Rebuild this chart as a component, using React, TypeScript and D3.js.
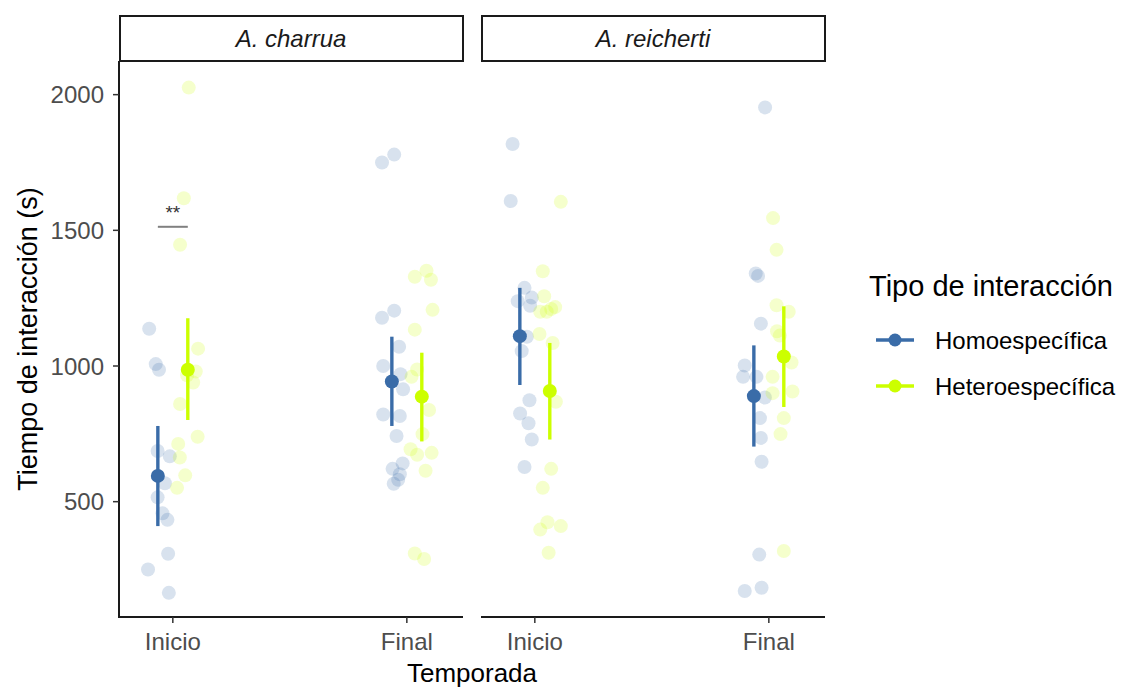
import * as d3 from 'd3';

const species = ['A. charrua', 'A. reicherti'];
const seasons = ['Inicio', 'Final'];
const types = ['Homoespecífica', 'Heteroespecífica'];
const typeColors = ['#3a6ca8', '#ccff00'];
const yTicks = [500, 1000, 1500, 2000];

// raw observations: [jitter (category units from the tick), seconds]
const charruaInicioHomo = [
  [-0.101, 1137], [-0.073, 1007], [-0.059, 986], [-0.065, 687], [-0.013, 667], [-0.034, 568],
  [-0.065, 516], [-0.044, 457], [-0.023, 433], [-0.02, 308], [-0.106, 250], [-0.017, 164],
];
const charruaInicioHetero = [
  [0.068, 2026], [0.047, 1618], [0.031, 1447], [0.108, 1064], [0.098, 980], [0.061, 966],
  [0.087, 939], [0.031, 860], [0.106, 739], [0.023, 713], [0.03, 663], [0.053, 597], [0.018, 551],
];
const charruaFinalHomo = [
  [-0.106, 1750], [-0.054, 1779], [-0.106, 1178], [-0.054, 1204], [-0.033, 1071], [-0.101, 1000],
  [-0.027, 970], [-0.016, 914], [-0.101, 821], [-0.03, 816], [-0.044, 742], [-0.018, 641],
  [-0.061, 621], [-0.03, 601], [-0.037, 581], [-0.056, 566],
];
const charruaFinalHetero = [
  [0.034, 1329], [0.084, 1351], [0.103, 1318], [0.11, 1207], [0.034, 1134], [0.044, 987],
  [0.02, 960], [0.095, 838], [0.067, 749], [0.016, 693], [0.044, 673], [0.106, 680],
  [0.08, 614], [0.034, 309], [0.074, 289],
];
const reichertiInicioHomo = [
  [-0.095, 1818], [-0.103, 1608], [-0.044, 1288], [-0.073, 1239], [-0.013, 1252], [-0.02, 1222],
  [-0.034, 1108], [-0.056, 1055], [-0.023, 874], [-0.063, 825], [-0.027, 789], [-0.013, 729], [-0.044, 628],
];
const reichertiInicioHetero = [
  [0.111, 1605], [0.034, 1349], [0.04, 1257], [0.023, 1200], [0.051, 1200], [0.087, 1217],
  [0.07, 1210], [0.02, 1118], [0.076, 1085], [0.09, 868], [0.07, 621], [0.034, 551],
  [0.054, 424], [0.023, 397], [0.111, 410], [0.059, 312],
];
const reichertiFinalHomo = [
  [-0.016, 1953], [-0.056, 1341], [-0.046, 1332], [-0.034, 1156], [-0.103, 1002], [-0.11, 960],
  [-0.053, 960], [-0.017, 884], [-0.038, 808], [-0.034, 735], [-0.031, 647], [-0.041, 305],
  [-0.031, 183], [-0.103, 171],
];
const reichertiFinalHetero = [
  [0.018, 1545], [0.033, 1428], [0.033, 1224], [0.085, 1200], [0.035, 1128], [0.047, 1112],
  [0.097, 1013], [0.016, 960], [0.016, 900], [0.101, 906], [0.064, 808], [0.05, 749], [0.064, 318],
];

// summaries: [species, season, type, mean, low, high]
const summaries: [number, number, number, number, number, number][] = [
  [0, 0, 0, 595, 410, 779],
  [0, 0, 1, 986, 801, 1176],
  [0, 1, 0, 943, 779, 1108],
  [0, 1, 1, 887, 722, 1049],
  [1, 0, 0, 1110, 930, 1288],
  [1, 0, 1, 908, 729, 1085],
  [1, 1, 0, 889, 703, 1076],
  [1, 1, 1, 1035, 849, 1220],
];

const observations = [
  { sp: 0, se: 0, ty: 0, pts: charruaInicioHomo },
  { sp: 0, se: 0, ty: 1, pts: charruaInicioHetero },
  { sp: 0, se: 1, ty: 0, pts: charruaFinalHomo },
  { sp: 0, se: 1, ty: 1, pts: charruaFinalHetero },
  { sp: 1, se: 0, ty: 0, pts: reichertiInicioHomo },
  { sp: 1, se: 0, ty: 1, pts: reichertiInicioHetero },
  { sp: 1, se: 1, ty: 0, pts: reichertiFinalHomo },
  { sp: 1, se: 1, ty: 1, pts: reichertiFinalHetero },
];

// significance bracket: species, season, value, label
const signif = { sp: 0, se: 0, value: 1513, label: '**' };

const dodge = [-0.064, 0.064];

export default function App() {
  const width = 1134;
  const height = 689;
  const top = 61;
  const bottom = 617;
  const panels = [
    [119, 463],
    [481, 825],
  ];
  const font = 'Arial, "Liberation Sans", sans-serif';

  const y = d3.scaleLinear().domain([75, 2124]).range([bottom, top]);
  const xs = panels.map(p => d3.scaleLinear().domain([0.77, 2.24]).range(p));

  return (
    <svg width={width} height={height} style={{ position: 'absolute', left: 0, top: 0 }} fontFamily={font}>
      <rect width={width} height={height} fill="#fff" />
      {panels.map((p, i) => (
        <g key={'strip' + i}>
          <rect x={p[0] + 1} y={16} width={p[1] - p[0] - 1} height={45} fill="#fff" stroke="#1a1a1a" strokeWidth={2} />
          <text x={(p[0] + p[1]) / 2} y={47} textAnchor="middle" fontSize={24} fontStyle="italic" fill="#1a1a1a">
            {species[i]}
          </text>
        </g>
      ))}

      {/* raw points */}
      {observations.map((o, k) =>
        o.pts.map((d, j) => (
          <circle
            key={k + '-' + j}
            cx={xs[o.sp](o.se + 1 + d[0])}
            cy={y(d[1])}
            r={7}
            fill={typeColors[o.ty]}
            fillOpacity={0.2}
          />
        ))
      )}

      {/* means and intervals */}
      {summaries.map((s, k) => {
        const cx = xs[s[0]](s[1] + 1 + dodge[s[2]]);
        return (
          <g key={'m' + k}>
            <line x1={cx} x2={cx} y1={y(s[4])} y2={y(s[5])} stroke={typeColors[s[2]]} strokeWidth={3.4} />
            <circle cx={cx} cy={y(s[3])} r={7} fill={typeColors[s[2]]} />
          </g>
        );
      })}

      {/* significance */}
      <line
        x1={xs[signif.sp](signif.se + 1 + dodge[0])}
        x2={xs[signif.sp](signif.se + 1 + dodge[1])}
        y1={y(signif.value)}
        y2={y(signif.value)}
        stroke="#808080"
        strokeWidth={2}
      />
      <text x={xs[signif.sp](signif.se + 1)} y={y(signif.value) - 8} textAnchor="middle" fontSize={19} fill="#333">
        {signif.label}
      </text>

      {/* y axis */}
      <line x1={panels[0][0]} x2={panels[0][0]} y1={top} y2={bottom + 1} stroke="#1a1a1a" strokeWidth={2} />
      {yTicks.map(t => (
        <g key={'yt' + t}>
          <line x1={panels[0][0] - 6} x2={panels[0][0]} y1={y(t)} y2={y(t)} stroke="#333" strokeWidth={1.5} />
          <text x={panels[0][0] - 15} y={y(t)} dy="0.36em" textAnchor="end" fontSize={24} fill="#4d4d4d">
            {t}
          </text>
        </g>
      ))}

      {/* x axes */}
      {panels.map((p, i) => (
        <g key={'xa' + i}>
          <line x1={p[0] - (i === 0 ? 1 : 0)} x2={p[1]} y1={bottom} y2={bottom} stroke="#1a1a1a" strokeWidth={2} />
          {seasons.map((s, j) => (
            <g key={s}>
              <line x1={xs[i](j + 1)} x2={xs[i](j + 1)} y1={bottom} y2={bottom + 6} stroke="#333" strokeWidth={1.5} />
              <text x={xs[i](j + 1)} y={bottom + 33} textAnchor="middle" fontSize={24} fill="#4d4d4d">
                {s}
              </text>
            </g>
          ))}
        </g>
      ))}

      <text x={(panels[0][0] + panels[1][1]) / 2} y={682} textAnchor="middle" fontSize={26} fill="#000">
        Temporada
      </text>
      <text
        transform={`translate(37,${(top + bottom) / 2}) rotate(-90)`}
        textAnchor="middle"
        fontSize={27}
        fill="#000"
      >
        Tiempo de interacción (s)
      </text>

      {/* legend */}
      <text x={869} y={296} fontSize={29} fill="#000">
        Tipo de interacción
      </text>
      {types.map((t, i) => (
        <g key={t} transform={`translate(0,${340 + i * 46})`}>
          <line x1={876} x2={914} y1={0} y2={0} stroke={typeColors[i]} strokeWidth={3.4} />
          <circle cx={895} cy={0} r={6.5} fill={typeColors[i]} />
          <text x={935} y={0} dy="0.36em" fontSize={24} fill="#000">
            {t}
          </text>
        </g>
      ))}
    </svg>
  );
}
